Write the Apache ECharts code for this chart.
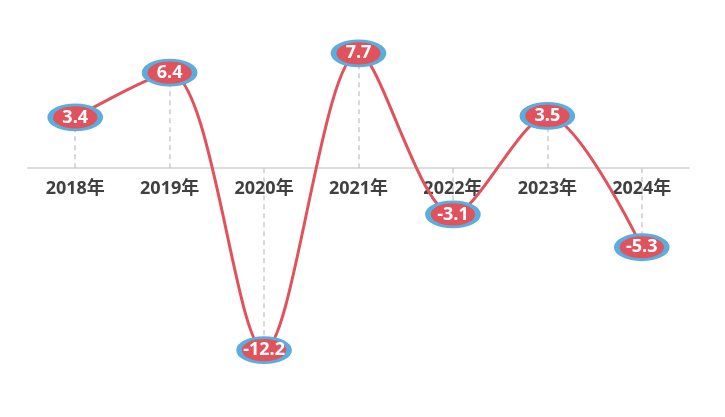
<!DOCTYPE html>
<html><head><meta charset="utf-8">
<script src="https://cdn.jsdelivr.net/npm/echarts@6/dist/echarts.min.js"></script>
<style>html,body{margin:0;padding:0;background:#fff}#c{width:725px;height:417px}</style>
</head><body><div id="c"></div>
<script>
const categories = ['2018年','2019年','2020年','2021年','2022年','2023年','2024年'];
const values = [3.4, 6.4, -12.2, 7.7, -3.1, 3.5, -5.3];

const chart = echarts.init(document.getElementById('c'));
const font = '"Open Sans", "Noto Sans CJK SC", sans-serif';
const gridTop = 19, gridH = 358, yMin = -14, yMax = 10;
const zeroOffset = -gridH * (0 - yMin) / (yMax - yMin);
chart.setOption({
  animation: false,
  grid: {left: 28, right: 36, top: gridTop, height: gridH},
  xAxis: {
    type: 'category', data: categories, boundaryGap: true, position: 'bottom', offset: zeroOffset,
    axisLine: {onZero: false, lineStyle: {color: '#dcdcdc', width: 2}},
    axisTick: {show: false},
    axisLabel: {color: '#404040', fontSize: 18, fontWeight: 'bold', fontFamily: font, margin: 12}
  },
  yAxis: {type: 'value', min: yMin, max: yMax, show: false, splitLine: {show: false}},
  series: [{
    type: 'line', data: [], z: 1, silent: true,
    markLine: {
      silent: true, symbol: 'none', label: {show: false}, animation: false,
      lineStyle: {color: '#cccccc', type: [5, 4], width: 1.5},
      data: values.map((v, i) => [{coord: [i, 0]}, {coord: [i, v]}])
    }
  }, {
    type: 'line', data: values, smooth: 0.3, z: 5,
    lineStyle: {color: '#e0525c', width: 3},
    itemStyle: {color: '#e0525c', borderColor: '#5badde', borderWidth: 4},
    symbol: 'circle', symbolSize: [50, 25],
    label: {show: true, position: 'inside', color: '#fff', fontSize: 18, fontWeight: 'bold', fontFamily: font}
  }]
});
</script></body></html>
